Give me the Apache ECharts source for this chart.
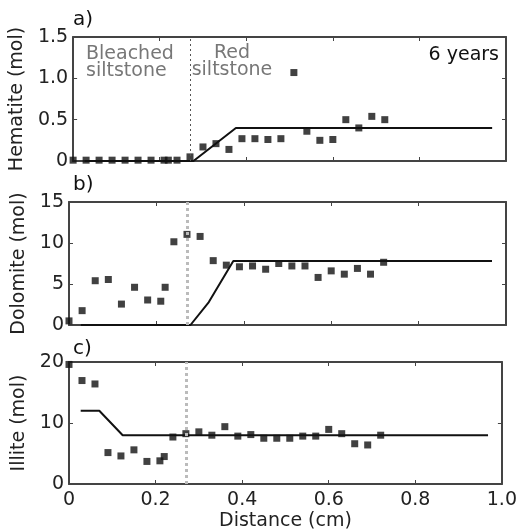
<!DOCTYPE html>
<html>
<head>
<meta charset="utf-8">
<script src="https://cdn.jsdelivr.net/npm/echarts@6/dist/echarts.min.js"></script>
<style>
html,body{margin:0;padding:0;background:#fff;}
#chart{width:520px;height:532px;}
</style>
</head>
<body>
<div id="chart"></div>
<script>
// ---- data ----
var distance = [0, 0.03, 0.06, 0.09, 0.12, 0.15, 0.18, 0.21, 0.22, 0.24, 0.27, 0.30, 0.33, 0.36, 0.39, 0.42, 0.45, 0.48, 0.51, 0.54, 0.57, 0.60, 0.63, 0.66, 0.69, 0.72];
var hematite = [0.01, 0.01, 0.01, 0.01, 0.01, 0.01, 0.01, 0.01, 0.01, 0.01, 0.05, 0.17, 0.21, 0.14, 0.27, 0.27, 0.26, 0.27, 1.07, 0.36, 0.25, 0.26, 0.50, 0.40, 0.54, 0.50];
var dolomite = [0.5, 1.75, 5.4, 5.55, 2.55, 4.6, 3.05, 2.9, 4.6, 10.15, 11.05, 10.8, 7.85, 7.3, 7.1, 7.2, 6.8, 7.5, 7.2, 7.2, 5.8, 6.6, 6.2, 6.9, 6.2, 7.65];
var illite = [19.6, 16.96, 16.4, 5.15, 4.6, 5.6, 3.7, 3.8, 4.5, 7.7, 8.25, 8.55, 8.0, 9.4, 7.85, 8.1, 7.5, 7.5, 7.5, 7.85, 7.85, 8.95, 8.25, 6.6, 6.4, 8.0];

var hematiteModelX = [0.027, 0.278, 0.376, 0.968];
var hematiteModelY = [0, 0, 0.4, 0.4];
var dolomiteModelX = [0.027, 0.278, 0.32, 0.376, 0.968];
var dolomiteModelY = [0, 0, 2.8, 7.8, 7.8];
var illiteModelX = [0.027, 0.07, 0.124, 0.968];
var illiteModelY = [12, 12, 8, 8];

var boundary = 0.27;

var xTickLabels = ['0', '0.2', '0.4', '0.6', '0.8', '1.0'];
var hematiteTickLabels = ['0', '0.5', '1.0', '1.5'];
var dolomiteTickLabels = ['0', '5', '10', '15'];
var illiteTickLabels = ['0', '10', '20'];

var panelLabels = ['a)', 'b)', 'c)'];
var yNames = ['Hematite (mol)', 'Dolomite (mol)', 'Illite (mol)'];

// ---- build ----
function zip(a, b) { return a.map(function (v, i) { return [v, b[i]]; }); }

var FONT = 'DejaVu Sans';
var AXC = '#444';
var grids = [
  { left: 69, width: 437, top: 37, height: 124 },
  { left: 69, width: 437, top: 202, height: 123 },
  { left: 69, width: 437, top: 362, height: 123 }
];
var yRanges = [
  { min: 0, max: 1.5, interval: 0.5, labels: hematiteTickLabels },
  { min: 0, max: 15, interval: 5, labels: dolomiteTickLabels },
  { min: 0, max: 20, interval: 10, labels: illiteTickLabels }
];

var xAxes = [], yAxes = [], series = [];
grids.forEach(function (g, i) {
  var isLast = i === 2;
  var base = {
    type: 'value', gridIndex: i, min: 0, max: 1, interval: 0.2,
    axisLine: { show: true, onZero: false, lineStyle: { color: AXC, width: 2 } },
    axisTick: { show: true, inside: true, length: 4, lineStyle: { color: AXC, width: 1 } },
    splitLine: { show: false }
  };
  xAxes.push(Object.assign({}, base, {
    position: 'bottom',
    axisLabel: {
      show: isLast, fontFamily: FONT, fontSize: 19, color: '#222', margin: 7,
      formatter: function (v) { return xTickLabels[Math.round(v / 0.2)]; }
    },
    name: isLast ? 'Distance (cm)' : '',
    nameLocation: 'middle', nameGap: 28,
    nameTextStyle: { fontFamily: FONT, fontSize: 19, color: '#222' }
  }));
  xAxes.push(Object.assign({}, base, { position: 'top', axisLabel: { show: false } }));
  var yr = yRanges[i];
  var ybase = {
    type: 'value', gridIndex: i, min: yr.min, max: yr.max, interval: yr.interval,
    axisLine: { show: true, onZero: false, lineStyle: { color: AXC, width: 2 } },
    axisTick: { show: true, inside: true, length: 4, lineStyle: { color: AXC, width: 1 } },
    splitLine: { show: false }
  };
  yAxes.push(Object.assign({}, ybase, {
    position: 'left',
    axisLabel: {
      show: true, fontFamily: FONT, fontSize: 19, color: '#222', margin: 5,
      formatter: function (v) { return yr.labels[Math.round(v / yr.interval)]; }
    },
    name: yNames[i], nameLocation: 'middle', nameGap: 36,
    nameTextStyle: { fontFamily: FONT, fontSize: 19, color: '#222' }
  }));
  yAxes.push(Object.assign({}, ybase, { position: 'right', axisLabel: { show: false } }));
});

var obs = [hematite, dolomite, illite];
var modX = [hematiteModelX, dolomiteModelX, illiteModelX];
var modY = [hematiteModelY, dolomiteModelY, illiteModelY];
obs.forEach(function (vals, i) {
  series.push({
    type: 'line', xAxisIndex: 2 * i, yAxisIndex: 2 * i,
    data: zip(modX[i], modY[i]), showSymbol: false, symbol: 'none',
    lineStyle: { color: '#111', width: 2 }, silent: true, z: 3,
    markLine: {
      silent: true, symbol: 'none', label: { show: false },
      lineStyle: i === 0 ? { color: '#555', width: 1, type: [2, 3] } : { color: '#bbb', width: 3, type: [3, 3] },
      data: [{ xAxis: boundary }]
    }
  });
  series.push({
    type: 'scatter', xAxisIndex: 2 * i, yAxisIndex: 2 * i,
    data: zip(distance, vals), symbol: 'rect', symbolSize: 7,
    itemStyle: { color: '#111' }, z: 4
  });
});

var graphics = [];
var labelY = [23, 188, 352];
panelLabels.forEach(function (t, i) {
  graphics.push({ type: 'text', left: 73, top: labelY[i] - 13,
    style: { text: t, font: '20px "DejaVu Sans"', fill: '#111' } });
});
graphics.push({ type: 'text', left: 86, top: 45,
  style: { text: 'Bleached\nsiltstone', font: '19px "DejaVu Sans"', fill: '#777', lineHeight: 17 } });
graphics.push({ type: 'text', x: 232, y: 45,
  style: { text: 'Red\nsiltstone', font: '19px "DejaVu Sans"', fill: '#777', lineHeight: 17, align: 'center' } });
graphics.push({ type: 'text', right: 21, top: 46,
  style: { text: '6 years', font: '19px "DejaVu Sans"', fill: '#111' } });

var chart = echarts.init(document.getElementById('chart'));
chart.setOption({
  animation: false,
  backgroundColor: '#fff',
  grid: grids,
  xAxis: xAxes,
  yAxis: yAxes,
  series: series,
  graphic: graphics
});
</script>
</body>
</html>
